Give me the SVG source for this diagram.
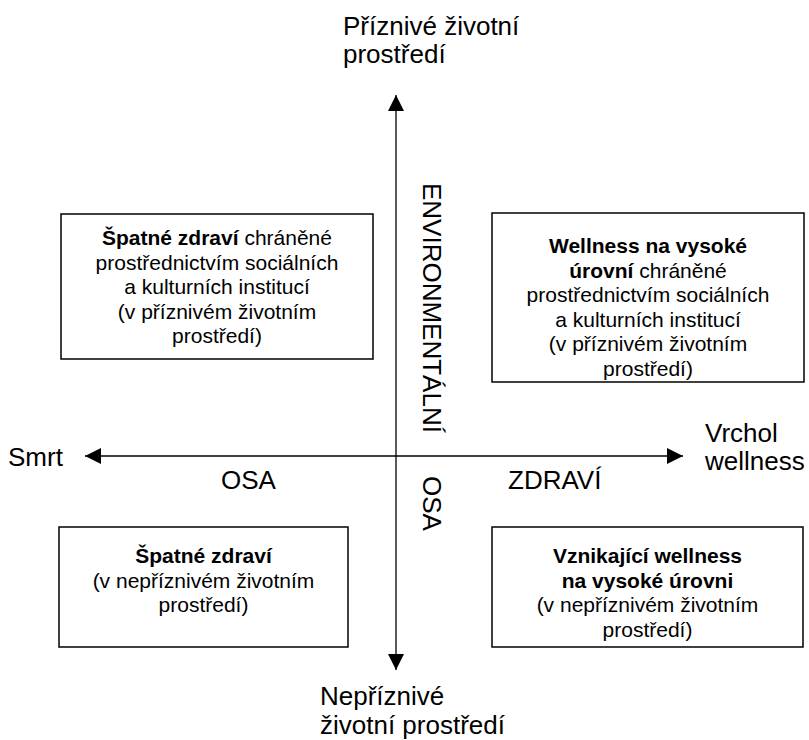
<svg xmlns="http://www.w3.org/2000/svg" width="809" height="740" viewBox="0 0 809 740">
<defs>
<style>
.t{font-family:"Liberation Sans",Arial,sans-serif;fill:#000}
.bx{font-size:21px;text-anchor:middle}
.lb{font-size:26px}
.b{font-weight:bold}
.box{fill:#fff;stroke:#000;stroke-width:1.5}
.ax{stroke:#000;stroke-width:1.3;fill:none}
</style>
<marker id="ah" markerUnits="userSpaceOnUse" markerWidth="16" markerHeight="16" refX="16" refY="8" orient="auto-start-reverse" viewBox="0 0 16 16">
<path d="M0,0 L16,8 L0,16 z" fill="#000"/>
</marker>
</defs>
<rect width="809" height="740" fill="#fff"/>
<g id="connectors">
<line class="ax" x1="396" y1="95" x2="396" y2="670" marker-start="url(#ah)" marker-end="url(#ah)"/>
<line class="ax" x1="85" y1="456" x2="683" y2="456" marker-start="url(#ah)" marker-end="url(#ah)"/>
</g>
<g id="top-label">
<text class="t lb" x="343" y="35">Příznivé životní</text>
<text class="t lb" x="343" y="63">prostředí</text>
</g>
<g id="bottom-label">
<text class="t lb" x="320" y="705">Nepříznivé</text>
<text class="t lb" x="320" y="734">životní prostředí</text>
</g>
<g id="left-label">
<text class="t lb" x="8" y="466">Smrt</text>
</g>
<g id="right-label">
<text class="t lb" x="705" y="442">Vrchol</text>
<text class="t lb" x="705" y="470">wellness</text>
</g>
<g id="axis-labels">
<text class="t lb" x="221" y="489">OSA</text>
<text class="t lb" x="508" y="489">ZDRAVÍ</text>
<text class="t lb" transform="translate(423,183) rotate(90)">ENVIRONMENTÁLNÍ</text>
<text class="t lb" transform="translate(423,476) rotate(90)">OSA</text>
</g>
<g id="box-tl">
<rect class="box" x="61" y="214" width="312" height="145"/>
<text class="t bx" x="217" y="245"><tspan class="b">Špatné zdraví</tspan> chráněné</text>
<text class="t bx" x="217" y="269.5">prostřednictvím sociálních</text>
<text class="t bx" x="217" y="294">a kulturních institucí</text>
<text class="t bx" x="217" y="318.5">(v příznivém životním</text>
<text class="t bx" x="217" y="343">prostředí)</text>
</g>
<g id="box-tr">
<rect class="box" x="492" y="213" width="312" height="169"/>
<text class="t bx b" x="648" y="253">Wellness na vysoké</text>
<text class="t bx" x="648" y="277.5"><tspan class="b">úrovní</tspan> chráněné</text>
<text class="t bx" x="648" y="302">prostřednictvím sociálních</text>
<text class="t bx" x="648" y="326.5">a kulturních institucí</text>
<text class="t bx" x="648" y="351">(v příznivém životním</text>
<text class="t bx" x="648" y="375.5">prostředí)</text>
</g>
<g id="box-bl">
<rect class="box" x="59" y="527" width="289" height="120"/>
<text class="t bx b" x="203.5" y="563">Špatné zdraví</text>
<text class="t bx" x="203.5" y="587.5">(v nepříznivém životním</text>
<text class="t bx" x="203.5" y="612">prostředí)</text>
</g>
<g id="box-br">
<rect class="box" x="492" y="527" width="311" height="120"/>
<text class="t bx b" x="647.5" y="563">Vznikající wellness</text>
<text class="t bx b" x="647.5" y="587.5">na vysoké úrovni</text>
<text class="t bx" x="647.5" y="612">(v nepříznivém životním</text>
<text class="t bx" x="647.5" y="636.5">prostředí)</text>
</g>
</svg>
